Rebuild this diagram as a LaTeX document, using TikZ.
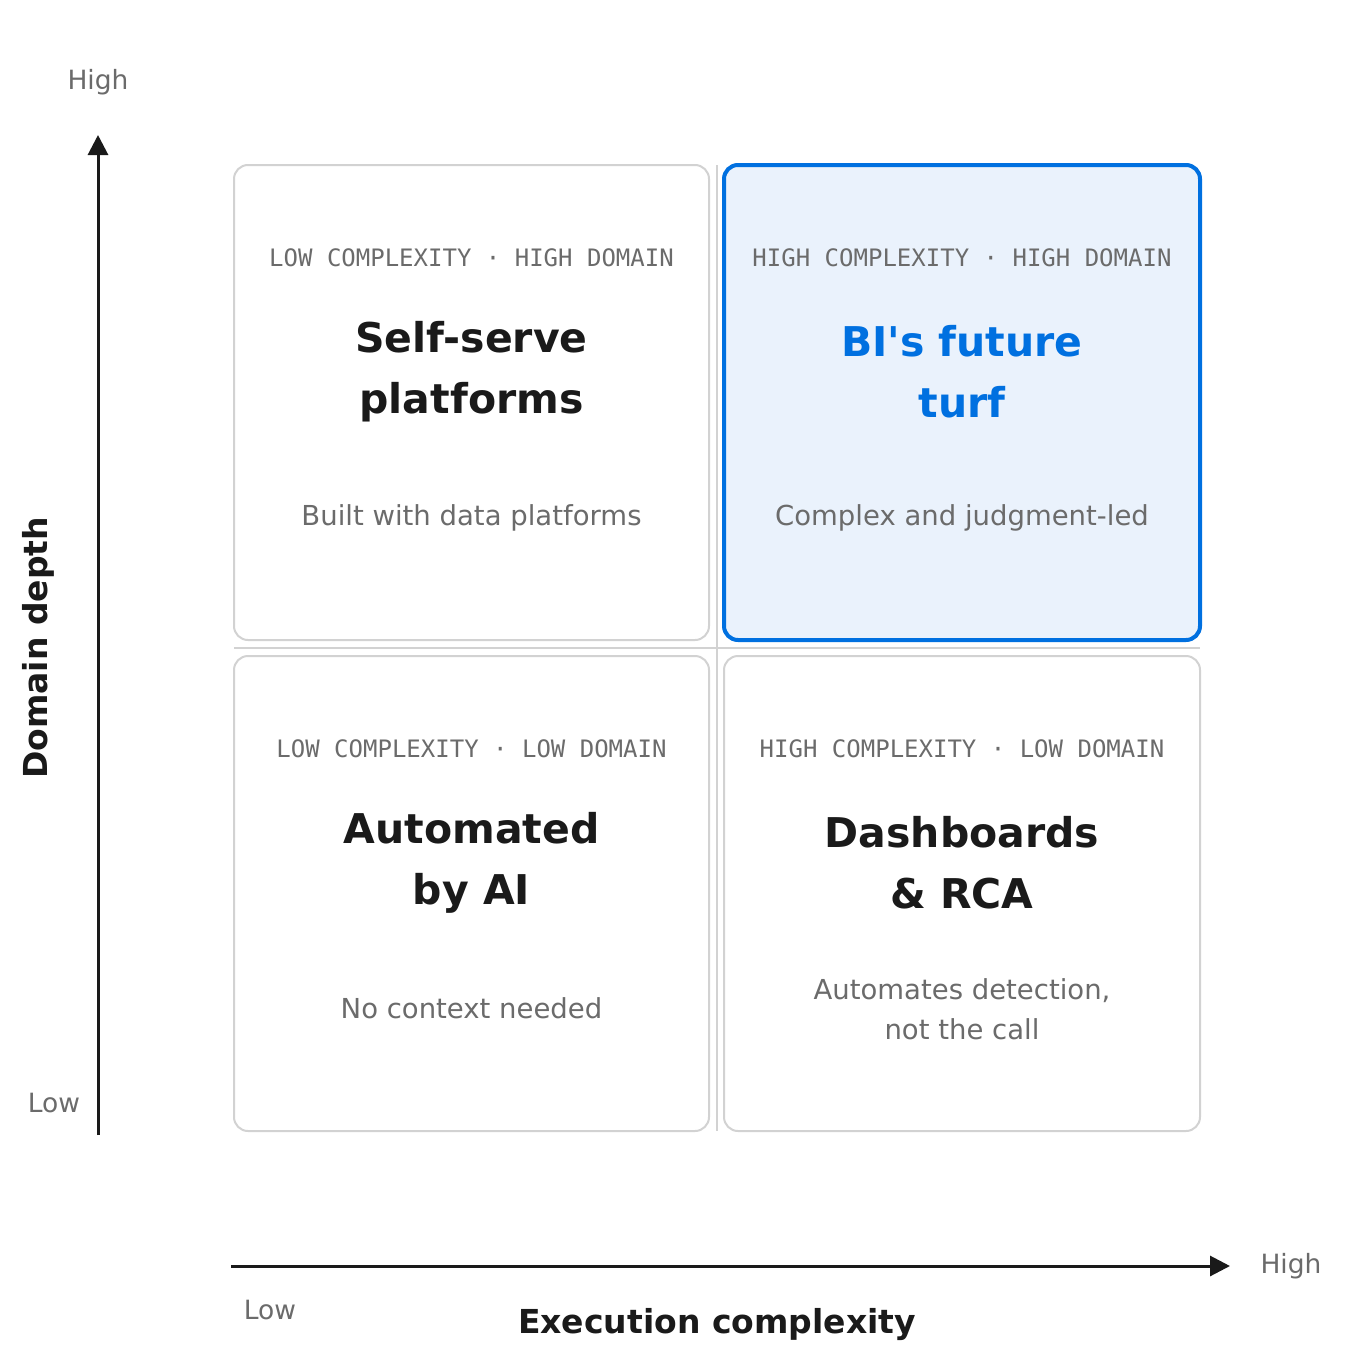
\documentclass[tikz,border=0pt]{standalone}
\usepackage{fontspec}
\setmainfont{DejaVu Sans}
\newfontfamily\monofont{DejaVu Sans Mono}
\usetikzlibrary{arrows.meta}
\definecolor{gridColor}{RGB}{210,210,210}
\definecolor{greyText}{RGB}{107,107,107}
\definecolor{darkText}{RGB}{26,26,26}
\definecolor{accent}{RGB}{0,112,224}
\definecolor{accentFill}{RGB}{234,242,252}
\tikzset{
  cell/.style={draw=gridColor,line width=2pt,rounded corners=14pt},
  tag/.style={text=greyText,font=\monofont\fontsize{24}{28}\selectfont,inner sep=0pt},
  head/.style={text=darkText,font=\bfseries\fontsize{41}{61}\selectfont,align=center,inner sep=0pt},
  sub/.style={text=greyText,font=\fontsize{27.5}{40}\selectfont,align=center,inner sep=0pt},
  axis/.style={draw=darkText,line width=3pt,-{Triangle[length=20pt,width=20pt]}},
  tick/.style={text=greyText,font=\fontsize{26.5}{30}\selectfont,inner sep=0pt},
  axtitle/.style={text=darkText,font=\bfseries\fontsize{33}{38}\selectfont,inner sep=0pt}
}
\begin{document}
\begin{tikzpicture}[x=1pt,y=-1pt]
\path[use as bounding box,fill=white] (0,0) rectangle (1345,1365);

% dividers
\draw[gridColor,line width=2pt] (717,165) -- (717,1131);
\draw[gridColor,line width=2pt] (234,648) -- (1200,648);

% cells
\draw[cell,fill=white] (234,165) rectangle (709,640);
\draw[cell,draw=accent,line width=4pt,fill=accentFill] (724,165) rectangle (1200,640);
\draw[cell,fill=white] (234,656) rectangle (709,1131);
\draw[cell,fill=white] (724,656) rectangle (1200,1131);

% top left
\node[tag] (tagTL) at (471.5,258) {LOW COMPLEXITY · HIGH DOMAIN};
\node[head] (headTL) at (471.5,372) {Self-serve\\platforms};
\node[sub] (subTL) at (471.5,518) {Built with data platforms};

% top right
\node[tag] (tagTR) at (962,258) {HIGH COMPLEXITY · HIGH DOMAIN};
\node[head,text=accent] (headTR) at (962,372) {BI\textquotesingle s future\\turf};
\node[sub] (subTR) at (962,518) {Complex and judgment-led};

% bottom left
\node[tag] (tagBL) at (471.5,749) {LOW COMPLEXITY · LOW DOMAIN};
\node[head] (headBL) at (471.5,863) {Automated\\by AI};
\node[sub] (subBL) at (471.5,1008) {No context needed};

% bottom right
\node[tag] (tagBR) at (962,749) {HIGH COMPLEXITY · LOW DOMAIN};
\node[head] (headBR) at (962,863) {Dashboards\\\& RCA};
\node[sub] (subBR) at (962,1009) {Automates detection,\\not the call};

% axes
\coordinate (yLow) at (98,1135);
\coordinate (yHigh) at (98,135);
\coordinate (xLow) at (231,1266);
\coordinate (xHigh) at (1230,1266);
\draw[axis] (yLow) -- (yHigh);
\draw[axis] (xLow) -- (xHigh);
\node[tick] (yHighLbl) at (98,82) {High};
\node[tick] (yLowLbl) at (54,1103) {Low};
\node[tick] (xHighLbl) at (1291,1266) {High};
\node[tick] (xLowLbl) at (270,1310) {Low};
\node[axtitle,rotate=90] (yTitle) at (38,648) {Domain depth};
\node[axtitle] (xTitle) at (717,1325) {Execution complexity};
\end{tikzpicture}
\end{document}
